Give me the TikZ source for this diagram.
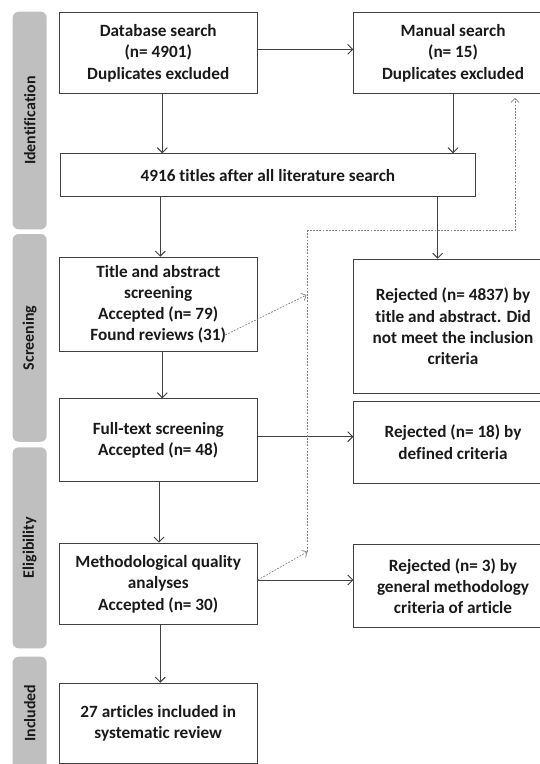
\documentclass[tikz,border=0pt]{standalone}
\usepackage{fontspec}
\setmainfont{Carlito}[Ligatures={NoCommon}]
\usetikzlibrary{arrows.meta,calc}
\definecolor{barg}{HTML}{BFBFBF}
\definecolor{lineg}{HTML}{404040}
\definecolor{txt}{HTML}{1A1A1A}
\begin{document}
\begin{tikzpicture}[x=1pt,y=-1pt,
 box/.style={draw=lineg, line width=1.1pt, fill=white, rectangle, inner sep=0pt, anchor=north west, align=center, font=\fontsize{17.2}{21.3}\selectfont\bfseries, text=txt},
 lbox/.style={box, minimum width=198pt},
 rbox/.style={box, minimum width=198.4pt},
 bar/.style={fill=barg, rounded corners=6pt, rotate=90, inner sep=0pt, minimum height=34pt, font=\fontsize{16}{19}\selectfont\bfseries, text=txt},
 arr/.style={draw=lineg, line width=0.9pt, -{Straight Barb[length=5pt,width=10pt]}},
 dotarr/.style={draw=gray, line width=0.7pt, dash pattern=on 1.8pt off 1.4pt, -{Straight Barb[length=4pt,width=8pt]}}]
\useasboundingbox (0,0) rectangle (540,764);
\clip (0,0) rectangle (540,764);
\fill[white] (0,0) rectangle (540,764);

% side bars
\node[bar, minimum width=217.6pt] (sid) at (29.7,120.5) {Identification};
\node[bar, minimum width=207.7pt] (ssc) at (29.7,337.9) {Screening};
\node[bar, minimum width=201pt] (sel) at (29.7,547.8) {Eligibility};
\node[bar, minimum width=113pt] (sin) at (29.7,713.2) {Included};

% boxes
\node[lbox, minimum height=81.6pt] (db) at (58.7,11.7) {Database search\\(n= 4901)\\Duplicates excluded};
\node[rbox, minimum height=81.6pt] (man) at (353.3,11.7) {Manual search\\(n= 15)\\Duplicates excluded};
\node[box, minimum width=414.7pt, minimum height=42.4pt] (all) at (60,153.3) {4916 titles after all literature search};
\node[lbox, minimum height=94pt] (tas) at (58.7,256.7) {Title and abstract\\screening\\Accepted (n= 79)\\Found reviews (31)};
\node[rbox, minimum height=134.6pt] (rj1) at (353.3,258.7) {Rejected (n= 4837) by\\title and abstract. Did\\not meet the inclusion\\criteria};
\node[lbox, minimum height=82.4pt] (fts) at (58.7,398.3) {Full-text screening\\Accepted (n= 48)};
\node[rbox, minimum height=82pt] (rj2) at (353.3,400.7) {Rejected (n= 18) by\\defined criteria};
\node[lbox, minimum height=81.6pt] (mqa) at (58.7,542.7) {Methodological quality\\analyses\\Accepted (n= 30)};
\node[rbox, minimum height=82.4pt] (rj3) at (353.3,544.3) {Rejected (n= 3) by\\general methodology\\criteria of article};
\node[lbox, minimum height=80.3pt] (inc) at (58.7,682.7) {27 articles included in\\systematic review};

% helper coordinates
\coordinate (xa) at (162.3,0);
\coordinate (xb) at (160.3,0);
\coordinate (xc) at (437.7,0);
\coordinate (xd) at (159,0);
\coordinate (ya) at (0,49.3);
\coordinate (yb) at (0,436.7);
\coordinate (yc) at (0,580);
\coordinate (fr) at (225.3,335);
\coordinate (dA) at (306.5,295);
\coordinate (dB) at (307.5,551.7);
\coordinate (hy) at (0,230.7);
\coordinate (dx) at (515,0);

% solid connectors
\draw[arr] (db.east |- ya) -- (man.west |- ya);
\draw[arr] (xa |- db.south) -- (xa |- all.north);
\draw[arr] (man.south) -- (man.south |- all.north);
\draw[arr] (xb |- all.south) -- (xb |- tas.north);
\draw[arr] (xc |- all.south) -- (xc |- rj1.north);
\draw[arr] (xa |- tas.south) -- (xa |- fts.north);
\draw[arr] (fts.east |- yb) -- (rj2.west |- yb);
\draw[arr] (xd |- fts.south) -- (xd |- mqa.north);
\draw[arr] (mqa.east |- yc) -- (rj3.west |- yc);
\draw[arr] (xb |- mqa.south) -- (xb |- inc.north);

% dotted connectors
\draw[dotarr] (fr) -- (dA);
\draw[dotarr] (mqa.east |- yc) -- (dB);
\draw[dotarr] (dB) -- (dB |- hy) -- (dx |- hy) -- ($(dx |- man.south)+(0,3.4)$);
\end{tikzpicture}
\end{document}
